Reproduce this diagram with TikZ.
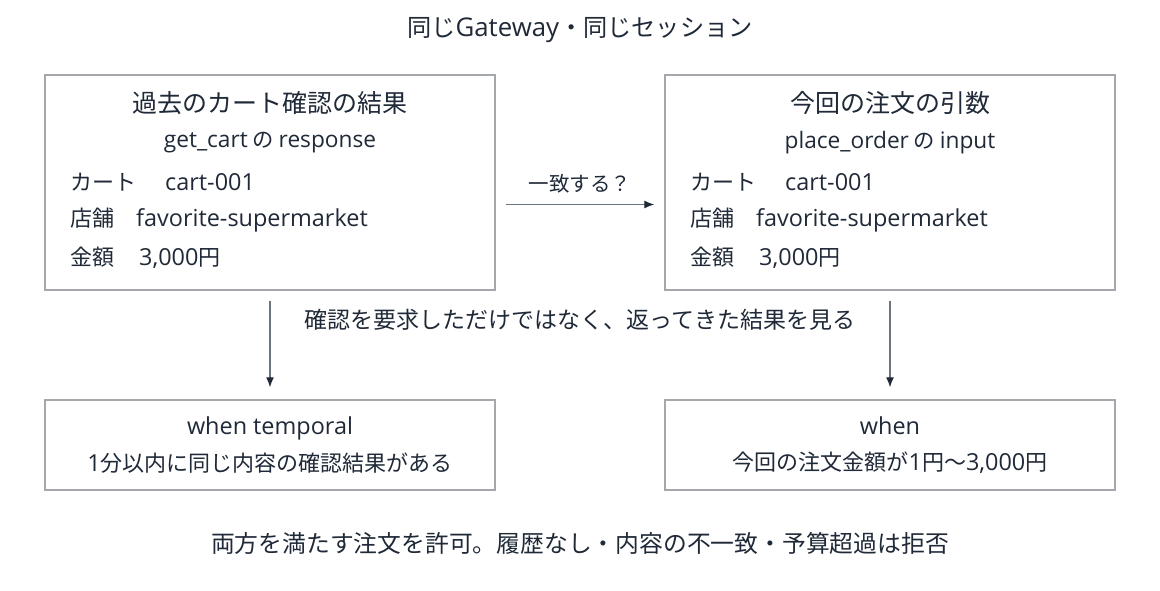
\documentclass[tikz,border=0pt]{standalone}
\usepackage{fontspec}
\setmainfont{Noto Sans CJK JP}
\newfontfamily\lat[Scale=1.065]{Open Sans}
\usetikzlibrary{arrows.meta}

\definecolor{ink}{HTML}{1F2937}
\definecolor{frame}{HTML}{A4A7AC}
\definecolor{shaft}{HTML}{6B7280}

\begin{document}
\begin{tikzpicture}[x=1pt,y=-1pt,
  box/.style={draw=frame,line width=1.5pt,minimum width=450pt,inner sep=0pt},
  big/.style={text=ink,inner sep=0pt,font=\fontsize{25}{29}\selectfont},
  wide/.style={text=ink,inner sep=0pt,font=\fontsize{23.5}{27}\selectfont},
  mid/.style={text=ink,inner sep=0pt,font=\fontsize{22}{26}\selectfont},
  small/.style={text=ink,inner sep=0pt,font=\fontsize{20.5}{24}\selectfont},
  flow/.style={draw=shaft,line width=1.2pt,-{Latex[length=10pt,width=8pt,color=ink]}}]

\useasboundingbox (0,0) rectangle (1160,590);

% boxes
\node[box,minimum height=215pt] (past) at (270,182.5) {};
\node[box,minimum height=215pt] (order) at (890,182.5) {};
\node[box,minimum height=90pt] (temporal) at (270,445) {};
\node[box,minimum height=90pt] (when) at (890,445) {};

% header and footer
\node[wide,font=\fontsize{24.2}{28}\selectfont] (head) at (580,30) {同じ{\lat Gateway}・同じセッション};
\node[wide,font=\fontsize{23.8}{27}\selectfont] (foot) at (580,543) {両方を満たす注文を許可。履歴なし・内容の不一致・予算超過は拒否};

% past cart check
\node[big] (pasttitle) at (270,103) {過去のカート確認の結果};
\node[small,font=\fontsize{21.3}{25}\selectfont] (pastsub) at (270,143) {{\lat get\_cart} の {\lat response}};
\node[mid,anchor=west] (pastcart) at (70,182) {カート　\hspace{7pt}{\lat cart-001}};
\node[mid,anchor=west] (pastshop) at (70,220) {店舗　{\lat favorite-supermarket}};
\node[mid,anchor=west] (pastsum) at (70,258) {金額　\hspace{3pt}{\lat 3,000}円};

% this order
\node[big] (ordertitle) at (890,103) {今回の注文の引数};
\node[small,font=\fontsize{21.3}{25}\selectfont] (ordersub) at (890,143) {{\lat place\_order} の {\lat input}};
\node[mid,anchor=west] (ordercart) at (690,182) {カート　\hspace{7pt}{\lat cart-001}};
\node[mid,anchor=west] (ordershop) at (690,220) {店舗　{\lat favorite-supermarket}};
\node[mid,anchor=west] (ordersum) at (690,258) {金額　\hspace{3pt}{\lat 3,000}円};

% conditions
\node[mid,text depth=0pt] (temporalhead) at (270,426) {{\lat when temporal}};
\node[mid] (temporaltext) at (270,463) {{\lat 1}分以内に同じ内容の確認結果がある};
\node[mid,text depth=0pt] (whenhead) at (890,426) {{\lat when}};
\node[mid] (whentext) at (890,463) {今回の注文金額が{\lat 1}円〜{\lat 3,000}円};

% arrows
\path ([xshift=10pt,yshift=-22pt]past.east) edge[flow] node[small,above=11pt] {一致する？} ([xshift=-10pt,yshift=-22pt]order.west);
\path (past.south) ++(0,10) edge[flow] ([yshift=12pt]temporal.north);
\path (order.south) ++(0,10) edge[flow] ([yshift=12pt]when.north);
\node[wide,font=\fontsize{23}{27}\selectfont] (note) at (580,320) {確認を要求しただけではなく、返ってきた結果を見る};
\end{tikzpicture}
\end{document}
